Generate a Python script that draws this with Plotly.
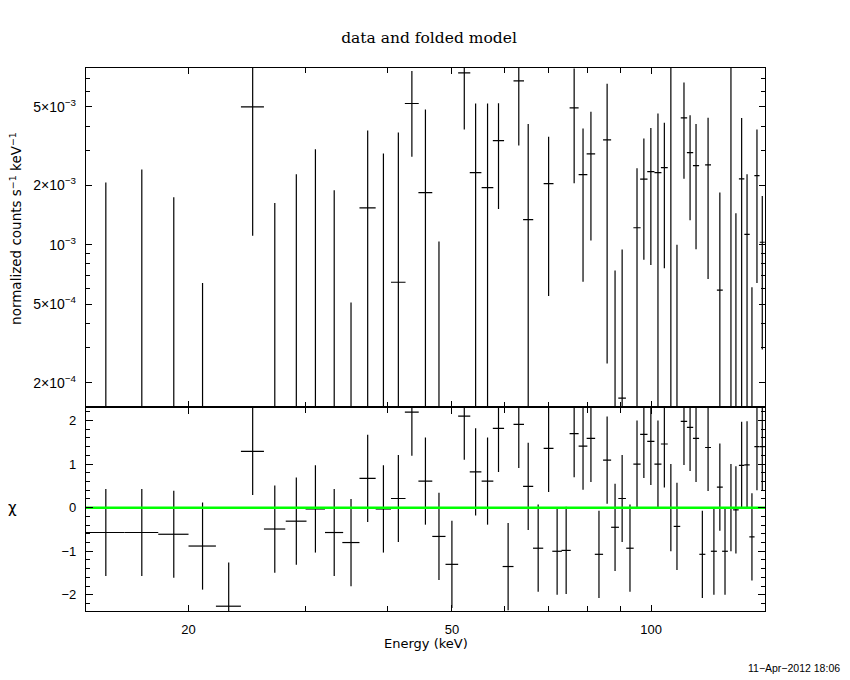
import numpy as np
import plotly.graph_objects as go

# bin centres (keV) and half widths
energy = [15.0, 17.0, 19.0, 21.0, 23.0, 25.0, 27.0, 29.1, 31.1, 33.2,
          35.2, 37.3, 39.4, 41.5, 43.5, 45.6, 47.8, 50.0, 52.2, 54.3,
          56.6, 58.8, 60.8, 63.1, 65.2, 67.5, 70.0, 72.1, 74.4, 76.5,
          78.9, 81.1, 83.4, 85.8, 88.2, 90.4, 92.9, 95.2, 97.5, 99.9,
          102.4, 104.7, 107.1, 109.4, 112.1, 114.5, 116.9, 119.5, 121.9, 124.4,
          127.0, 129.3, 132.0, 134.3, 137.0, 139.6, 142.0, 144.5, 147.2]
half_width = [1.0, 1.0, 1.0, 1.0, 1.0, 1.0, 1.0, 1.05, 1.05, 1.05,
              1.05, 1.05, 1.05, 1.05, 1.05, 1.1, 1.1, 1.1, 1.1, 1.1,
              1.15, 1.15, 1.15, 1.15, 1.15, 1.2, 1.2, 1.2, 1.2, 1.2,
              1.2, 1.2, 1.2, 1.2, 1.2, 1.2, 1.2, 1.2, 1.25, 1.25,
              1.25, 1.25, 1.25, 1.25, 1.25, 1.25, 1.25, 1.25, 1.25, 1.3,
              1.3, 1.3, 1.3, 1.3, 1.3, 1.3, 1.3, 1.3, 1.3]

# normalized counts s^-1 keV^-1 and 1-sigma errors
rate = [-2.70e-3, -3.14e-3, -2.72e-3, -4.68e-3, -1.13e-2, 5.00e-3, -1.57e-3, -1.02e-3, -0.09e-3, -2.50e-3,
        -2.05e-3, 1.54e-3, -0.09e-3, 6.46e-4, 5.20e-3, 1.84e-3, -2.02e-3, -3.90e-3, 7.43e-3, 2.32e-3,
        1.95e-3, 3.37e-3, -4.00e-3, 6.77e-3, 1.34e-3, -2.40e-3, 2.04e-3, -2.55e-3, -2.50e-3, 4.94e-3,
        2.27e-3, 2.89e-3, -2.80e-3, 3.40e-3, -6.1e-4, 1.67e-4, -1.00e-3, 1.22e-3, 2.15e-3, 2.35e-3,
        2.32e-3, 2.46e-3, 0.0, -7.6e-4, 4.40e-3, 2.93e-3, 2.52e-3, -1.60e-3, 2.54e-3, -1.50e-3,
        5.89e-4, -1.45e-3, 0.0, -7.6e-5, 2.16e-3, 1.13e-3, -1.23e-3, 2.24e-3, 1.03e-3]
rate_err = [4.77e-3, 5.55e-3, 4.46e-3, 5.32e-3, 5.0e-3, 3.89e-3, 3.20e-3, 3.30e-3, 3.14e-3, 4.39e-3,
            2.56e-3, 2.25e-3, 2.99e-3, 3.06e-3, 2.41e-3, 3.01e-3, 3.06e-3, 3.0e-3, 3.59e-3, 2.88e-3,
            3.25e-3, 1.85e-3, 3.0e-3, 3.58e-3, 2.76e-3, 2.5e-3, 1.49e-3, 2.5e-3, 2.55e-3, 2.89e-3,
            1.62e-3, 1.84e-3, 2.6e-3, 3.15e-3, 1.35e-3, 7.8e-4, 1.07e-3, 1.22e-3, 1.31e-3, 1.56e-3,
            2.31e-3, 1.70e-3, 9.0e-3, 1.76e-3, 2.24e-3, 1.60e-3, 1.57e-3, 1.5e-3, 1.87e-3, 1.5e-3,
            1.25e-3, 1.42e-3, 9.0e-3, 1.52e-3, 2.235e-3, 1.15e-3, 1.84e-3, 1.6e-3, 7.35e-4]

# residuals in sigma
chi = [-0.57, -0.57, -0.61, -0.88, -2.26, 1.29, -0.49, -0.31, -0.03, -0.57,
       -0.80, 0.67, -0.03, 0.21, 2.19, 0.61, -0.66, -1.30, 2.10, 0.82,
       0.61, 1.82, -1.35, 1.91, 0.49, -0.93, 1.36, -1.00, -0.98, 1.70,
       1.41, 1.59, -1.07, 1.09, -0.45, 0.21, -0.93, 1.00, 1.68, 1.52,
       1.00, 1.46, 0.00, -0.43, 1.98, 1.84, 1.59, -1.07, 1.38, -1.00,
       0.47, -1.00, 0.00, -0.05, 0.97, 0.98, -0.67, 1.40, 1.40]

x_range = [14.0, 148.6]


def err_segments(xc, hw, yc, err):
    # cross-shaped error bars; log axis so drop everything <= 0
    xs, ys = [], []
    for x, w, y, e in zip(xc, hw, yc, err):
        hi = y + e
        if hi <= 0:
            continue
        lo = max(y - e, 1e-8)
        xs += [x, x, None]
        ys += [lo, hi, None]
        if y > 0:
            xs += [x - w, x + w, None]
            ys += [y, y, None]
    return xs, ys


sx, sy = err_segments(energy, half_width, rate, rate_err)

fig = go.Figure()
fig.add_trace(go.Scatter(x=sx, y=sy, mode="lines", xaxis="x2", yaxis="y",
                         line=dict(color="black", width=1.2), hoverinfo="skip"))
fig.add_trace(go.Scatter(
    x=energy, y=chi, mode="markers", xaxis="x", yaxis="y2",
    marker=dict(size=0.1, color="black", opacity=0),
    error_y=dict(type="constant", value=1.0, width=0, thickness=1.2, color="black"),
    error_x=dict(type="data", array=half_width, width=0, thickness=1.2, color="black"),
))
fig.add_trace(go.Scatter(x=x_range, y=[0, 0], mode="lines", xaxis="x", yaxis="y2",
                         line=dict(color="#00ff00", width=2.5), hoverinfo="skip"))

font = "Liberation Sans, Arial, sans-serif"
label_font = "DejaVu Sans, sans-serif"
frame = dict(showline=True, linecolor="black", linewidth=1.3, mirror="allticks",
             ticks="inside", tickcolor="black", tickwidth=1.2, showgrid=False,
             zeroline=False, ticklabelstandoff=6)
x_common = dict(frame, type="log", range=list(np.log10(x_range)),
                tickvals=[20, 50, 100], ticktext=["20", "50", "100"], ticklen=6,
                minor=dict(tickvals=[30, 40, 60, 70, 80, 90], ticks="inside",
                           ticklen=5, tickwidth=1, tickcolor="black", showgrid=False))

# page has an 8px body margin, so the figure is a bit smaller than the window
split = 0.375
fig.update_layout(
    width=842, height=672,
    margin=dict(l=78, r=85, t=60, b=69),
    paper_bgcolor="white", plot_bgcolor="white",
    showlegend=False,
    font=dict(family=font, size=13, color="black"),
    title=dict(text="data and folded model", x=0.5, xanchor="center",
               y=1 - 30 / 672, yanchor="middle",
               font=dict(family="DejaVu Serif, serif", size=15.5, color="black")),
    xaxis=dict(x_common, anchor="y2", domain=[0, 1]),
    xaxis2=dict(x_common, anchor="y", matches="x", showticklabels=False),
    yaxis=dict(frame, type="log", domain=[split, 1], anchor="x2",
               range=[np.log10(1.5e-4), np.log10(7.87e-3)],
               tickvals=[2e-4, 5e-4, 1e-3, 2e-3, 5e-3],
               ticktext=["2×10<sup>−4</sup>", "5×10<sup>−4</sup>", "10<sup>−3</sup>",
                         "2×10<sup>−3</sup>", "5×10<sup>−3</sup>"],
               ticklen=6, tickfont=dict(size=14),
               minor=dict(tickvals=[3e-4, 4e-4, 6e-4, 7e-4, 8e-4, 9e-4, 3e-3, 4e-3, 6e-3, 7e-3],
                          ticks="inside", ticklen=4, tickwidth=1, tickcolor="black",
                          showgrid=False)),
    yaxis2=dict(frame, domain=[0, split], anchor="x", range=[-2.37, 2.30],
                tickvals=[-2, -1, 0, 1, 2], ticklen=7,
                minor=dict(tick0=0, dtick=0.2, ticks="inside", ticklen=4, tickwidth=1,
                           tickcolor="black", showgrid=False)),
    annotations=[
        dict(text="normalized counts s<sup>−1</sup> keV<sup>−1</sup>", textangle=-90,
             xref="paper", yref="paper", x=-0.1035, y=0.705, xanchor="center",
             yanchor="middle", showarrow=False, font=dict(family=label_font, size=13.5)),
        dict(text="χ", xref="paper", yref="paper", x=-0.108, y=0.19, xanchor="center",
             yanchor="middle", showarrow=False, font=dict(family=label_font, size=15)),
        dict(text="Energy (keV)", xref="paper", yref="paper", x=0.5, y=-0.059,
             xanchor="center", yanchor="middle", showarrow=False,
             font=dict(family=label_font, size=13)),
        dict(text="11−Apr−2012 18:06", xref="paper", yref="paper", x=1.113, y=-0.105,
             xanchor="right", yanchor="middle", showarrow=False, font=dict(size=10.5)),
    ],
)

fig.write_html("out.html")
